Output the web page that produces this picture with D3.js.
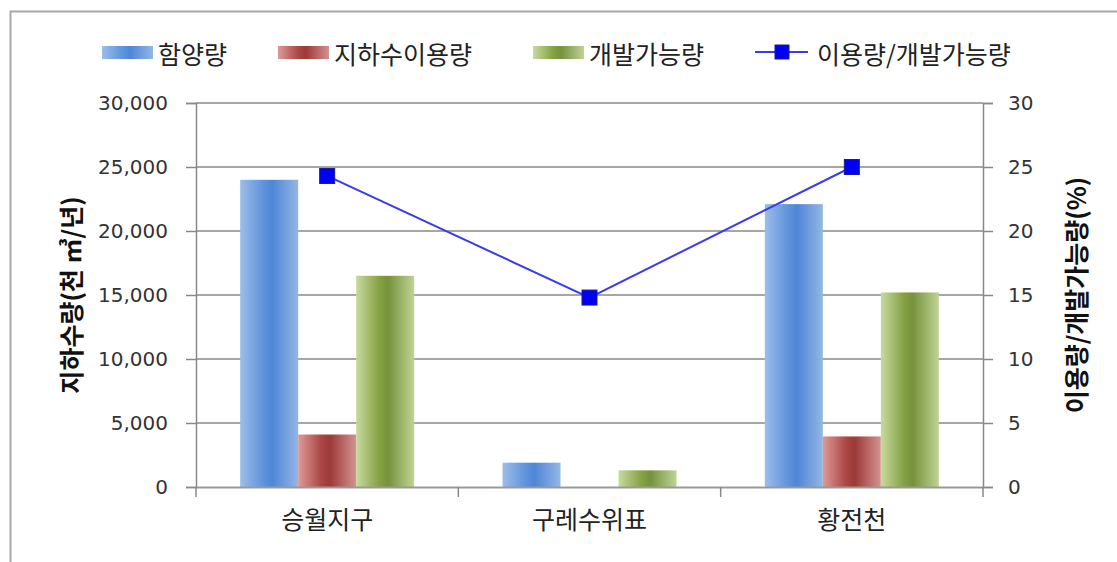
<!DOCTYPE html>
<html><head><meta charset="utf-8">
<script src="https://cdn.jsdelivr.net/npm/d3@7"></script>
<style>
body{margin:0;background:#fff;}
text{font-family:"Noto Sans CJK KR","Noto Sans",sans-serif;}
.num{font-family:"DejaVu Sans",sans-serif;}
</style></head>
<body><svg id="c" width="1117" height="562"></svg>
<script>
const categories = ["승월지구", "구레수위표", "황전천"];
const seriesNames = ["함양량", "지하수이용량", "개발가능량"];
const recharge = [24000, 1900, 22100];
const usage = [4100, 0, 3950];
const developable = [16500, 1300, 15200];
const ratioName = "이용량/개발가능량";
const ratio = [24.3, 14.8, 25.0];
const leftTicks = [0, 5000, 10000, 15000, 20000, 25000, 30000];
const rightTicks = [0, 5, 10, 15, 20, 25, 30];
const leftTitle = "지하수량(천 ㎥/년)";
const rightTitle = "이용량/개발가능량(%)";

const svg = d3.select("#c");
const L = 196, R = 983, T = 103, B = 487;

// gradients
const defs = svg.append("defs");
const grads = [
  ["gBlue", ["#9cbde9", "#5f93dc", "#4f86d6", "#93b6e4"]],
  ["gRed", ["#dc9a98", "#ab4744", "#9c3a38", "#d39290"]],
  ["gGreen", ["#c8da9f", "#84a143", "#76923c", "#bfd394"]]
];
grads.forEach(([id, cs]) => {
  const g = defs.append("linearGradient").attr("id", id).attr("x1", 0).attr("x2", 1).attr("y1", 0).attr("y2", 0);
  [0, 0.4, 0.55, 1].forEach((o, i) => g.append("stop").attr("offset", o).attr("stop-color", cs[i]));
});
const fills = ["url(#gBlue)", "url(#gRed)", "url(#gGreen)"];

// outer frame
svg.append("rect").attr("x", 10.5).attr("y", 11.5).attr("width", 1120).attr("height", 560)
  .attr("fill", "none").attr("stroke", "#a8a8a8").attr("stroke-width", 2);

const y = d3.scaleLinear().domain([0, 30000]).range([B, T]);
const y2 = d3.scaleLinear().domain([0, 30]).range([B, T]);
const p = 1 - 174 / ((R - L) / 3);
const x0 = d3.scaleBand().domain(categories).range([L, R]).paddingInner(p).paddingOuter(p / 2);
const x1 = d3.scaleBand().domain(seriesNames).range([0, x0.bandwidth()]);

// gridlines
svg.append("g").selectAll("line").data(leftTicks.filter(d => d > 0)).join("line")
  .attr("x1", L).attr("x2", R).attr("y1", d => y(d)).attr("y2", d => y(d))
  .attr("stroke", "#a6a6a6").attr("stroke-width", 2);

// bars
const series = [recharge, usage, developable];
series.forEach((vals, si) => {
  svg.append("g").selectAll("rect").data(categories).join("rect")
    .attr("x", c => x0(c) + x1(seriesNames[si]))
    .attr("width", x1.bandwidth())
    .attr("y", (c, i) => y(vals[i]))
    .attr("height", (c, i) => y(0) - y(vals[i]))
    .attr("fill", fills[si]);
});

// axes
const axL = svg.append("g").attr("transform", `translate(${L},0)`)
  .call(d3.axisLeft(y).tickValues(leftTicks).tickFormat(d3.format(",")).tickSize(10).tickPadding(18));
const axR = svg.append("g").attr("transform", `translate(${R},0)`)
  .call(d3.axisRight(y2).tickValues(rightTicks).tickSize(10).tickPadding(15));
const xb = d3.scaleOrdinal().domain([0,1,2,3]).range([L, L + (R-L)/3, L + 2*(R-L)/3, R]);
const axB = svg.append("g").attr("transform", `translate(0,${B})`)
  .call(d3.axisBottom(x0).tickSize(0).tickPadding(24));
svg.append("g").selectAll("line").data([0,1,2,3]).join("line")
  .attr("x1", d => xb(d)).attr("x2", d => xb(d)).attr("y1", B).attr("y2", B + 10)
  .attr("stroke", "#888").attr("stroke-width", 1.5);
[axL, axR, axB].forEach(a => {
  a.select(".domain").attr("stroke", "#888").attr("stroke-width", 1.5);
  a.selectAll(".tick line").attr("stroke", "#888").attr("stroke-width", 1.5);
});
axL.selectAll("text").attr("class", "num").attr("font-size", 20).attr("fill", "#333");
axR.selectAll("text").attr("class", "num").attr("font-size", 20).attr("fill", "#333");
axB.selectAll("text").attr("font-size", 25).attr("fill", "#222").attr("font-family", "Noto Sans CJK KR");
axB.select(".domain").attr("stroke", "#999").attr("stroke-width", 2);

// line
const cx = c => x0(c) + x0.bandwidth() / 2;
svg.append("path").datum(categories)
  .attr("d", d3.line().x(c => cx(c)).y((c, i) => y2(ratio[i])))
  .attr("fill", "none").attr("stroke", "#3a3aee").attr("stroke-width", 2);
svg.append("g").selectAll("rect").data(categories).join("rect")
  .attr("x", c => cx(c) - 7.5).attr("y", (c, i) => y2(ratio[i]) - 7.5)
  .attr("width", 15).attr("height", 15).attr("fill", "#0000f5").attr("stroke", "#1a1a9a").attr("stroke-width", 1);

// titles
svg.append("text").attr("transform", "translate(70,295) rotate(-90)").attr("text-anchor", "middle")
  .attr("dominant-baseline", "central")
  .attr("font-size", 25).attr("font-weight", "bold").attr("fill", "#111").text(leftTitle);
svg.append("text").attr("transform", "translate(1075,295) rotate(-90)").attr("text-anchor", "middle")
  .attr("dominant-baseline", "central")
  .attr("font-size", 25).attr("font-weight", "bold").attr("fill", "#111").text(rightTitle);

// legend
const lg = svg.append("g");
const legX = [102, 278, 533];
seriesNames.forEach((n, i) => {
  lg.append("rect").attr("x", legX[i]).attr("y", 46).attr("width", 51).attr("height", 13).attr("fill", fills[i]);
  lg.append("text").attr("x", legX[i] + 56).attr("y", 53).attr("dominant-baseline", "central")
    .attr("font-size", 25).attr("fill", "#222").text(n);
});
lg.append("line").attr("x1", 755).attr("x2", 808).attr("y1", 52).attr("y2", 52).attr("stroke", "#3a3aee").attr("stroke-width", 2);
lg.append("rect").attr("x", 775).attr("y", 45).attr("width", 14).attr("height", 14).attr("fill", "#0000f5").attr("stroke", "#1a1a9a");
lg.append("text").attr("x", 817).attr("y", 53).attr("dominant-baseline", "central")
  .attr("font-size", 25).attr("fill", "#222").text(ratioName);
</script></body></html>
